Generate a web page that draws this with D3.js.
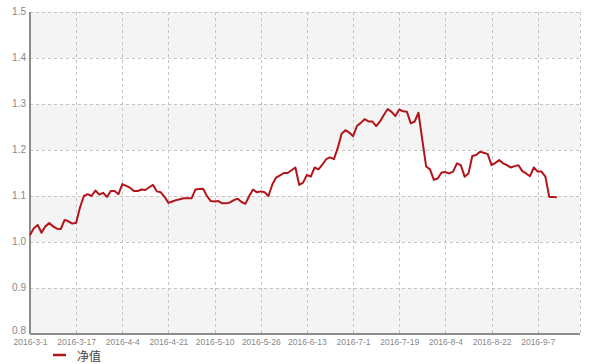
<!DOCTYPE html>
<html><head><meta charset="utf-8">
<script src="https://cdn.jsdelivr.net/npm/d3@7/dist/d3.min.js"></script>
<style>
html,body{margin:0;padding:0;background:#fff;}
svg{display:block;font-family:"Liberation Sans",Arial,sans-serif;}
</style></head>
<body><svg id="c" width="596" height="364"></svg>
<script>
const seriesName = '净值';
const xTickLabels = ['2016-3-1','2016-3-17','2016-4-4','2016-4-21','2016-5-10','2016-5-26','2016-6-13','2016-7-1','2016-7-19','2016-8-4','2016-8-22','2016-9-7'];
const yTickValues = [0.8,0.9,1.0,1.1,1.2,1.3,1.4,1.5];
const navValues = [
 1.015,1.030,1.037,1.020,1.034,1.041,1.034,1.029,1.028,1.048,
 1.045,1.040,1.042,1.075,1.100,1.104,1.100,1.112,1.103,1.107,
 1.098,1.111,1.111,1.104,1.126,1.122,1.118,1.111,1.111,1.114,
 1.113,1.119,1.124,1.110,1.108,1.098,1.085,1.088,1.091,1.093,
 1.095,1.095,1.095,1.114,1.115,1.116,1.100,1.089,1.088,1.089,
 1.084,1.084,1.086,1.091,1.094,1.087,1.083,1.100,1.114,1.108,
 1.110,1.108,1.100,1.125,1.140,1.145,1.150,1.150,1.156,1.162,
 1.124,1.129,1.146,1.142,1.162,1.158,1.168,1.180,1.184,1.180,
 1.204,1.235,1.243,1.238,1.230,1.252,1.259,1.267,1.262,1.262,
 1.252,1.262,1.276,1.289,1.283,1.274,1.288,1.284,1.283,1.258,
 1.262,1.281,1.222,1.164,1.158,1.135,1.138,1.151,1.152,1.149,
 1.153,1.171,1.167,1.142,1.149,1.187,1.189,1.196,1.194,1.191,
 1.167,1.172,1.178,1.171,1.167,1.162,1.165,1.167,1.154,1.149,
 1.143,1.162,1.153,1.153,1.142,1.098,1.098,1.097
];
const tickEvery = 12;
const xSlots = 143;

const svg = d3.select('#c');
const L = 30, R = 580, T = 12, B = 334;
const x = d3.scaleLinear().domain([0, xSlots]).range([L, R]);
const y = d3.scaleLinear().domain([0.8, 1.5]).range([B, T]);
const lineColor = '#b3141a';
const gridColor = '#c4c4c4';

// bands
const bands = d3.range(yTickValues.length - 1);
svg.append('g').selectAll('rect').data(bands).join('rect')
  .attr('x', L).attr('width', R - L)
  .attr('y', i => y(yTickValues[i+1])).attr('height', i => y(yTickValues[i]) - y(yTickValues[i+1]))
  .attr('fill', i => i % 2 === 0 ? '#f4f4f4' : '#ffffff');

// grid
const xTickIdx = xTickLabels.map((d,i) => i * tickEvery);
svg.append('g').selectAll('line').data(yTickValues.slice(1)).join('line')
  .attr('x1', L).attr('x2', R).attr('y1', d => Math.round(y(d)) + 0.5).attr('y2', d => Math.round(y(d)) + 0.5)
  .attr('stroke', gridColor).attr('stroke-dasharray', '3,3');
svg.append('g').selectAll('line').data(xTickIdx.slice(1).concat([xSlots])).join('line')
  .attr('x1', d => Math.round(x(d)) + 0.5).attr('x2', d => Math.round(x(d)) + 0.5).attr('y1', T).attr('y2', B)
  .attr('stroke', gridColor).attr('stroke-dasharray', '3,3');

// axes
const yAxis = svg.append('g').attr('transform', `translate(${L},0)`)
  .call(d3.axisLeft(y).tickValues(yTickValues).tickSize(0).tickPadding(4).tickFormat(d3.format('.1f')));
const xAxis = svg.append('g').attr('transform', `translate(0,${B})`)
  .call(d3.axisBottom(x).tickValues(xTickIdx).tickSize(0).tickPadding(5).tickFormat((d,i) => xTickLabels[i]));
[yAxis, xAxis].forEach(g => {
  g.select('.domain').attr('stroke', '#8c8c8c').attr('stroke-width', 2);
  g.selectAll('text').attr('fill', '#888').style('font-size', '10px').style('font-family', '"Liberation Sans",Arial,sans-serif');
});
yAxis.selectAll('text').attr('dy', d => d === 0.8 ? '-0.08em' : '0.25em');
xAxis.selectAll('text').style('font-size', '8.5px').attr('dy', '0.72em');
yAxis.select('.domain').attr('d', `M0,${B}V${T}`);
xAxis.select('.domain').attr('d', `M${L},0H${R}`);

// line
const line = d3.line().x((d,i) => x(i)).y(d => y(d));
svg.append('path').datum(navValues).attr('d', line)
  .attr('fill', 'none').attr('stroke', lineColor).attr('stroke-width', 2).attr('stroke-linejoin', 'round');

// legend
const lg = svg.append('g');
lg.append('line').attr('x1', 53).attr('x2', 66).attr('y1', 355).attr('y2', 355).attr('stroke', lineColor).attr('stroke-width', 2.5);
lg.append('text').attr('x', 77).attr('y', 361).text(seriesName)
  .attr('fill', '#444').style('font-size', '12px').style('font-family', '"Noto Sans CJK SC",sans-serif');
</script></body></html>
